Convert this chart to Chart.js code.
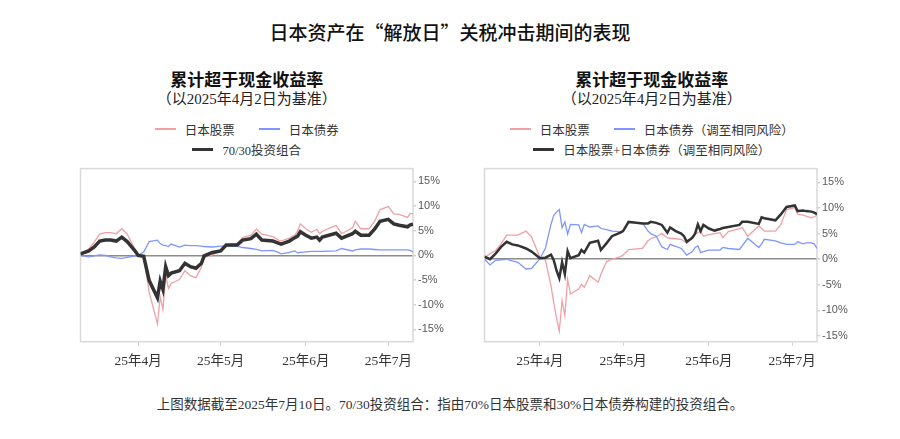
<!DOCTYPE html>
<html lang="zh-CN">
<head>
<meta charset="utf-8">
<script src="https://cdn.jsdelivr.net/npm/chart.js@4.4.1/dist/chart.umd.min.js"></script>
<style>
    body {
        margin: 0;
        width: 900px;
        height: 439px;
        position: relative;
        overflow: hidden;
        background: #fff;
        font-family: "Liberation Serif", "Noto Sans CJK SC", serif;
        color: #222;
    }
    .abs { position: absolute; }
    #mainTitle {
        left: 0; top: 20px; width: 900px; line-height: 24px;
        text-align: center; font-size: 19px; font-weight: 500; color: #111;
        font-family: "Noto Sans CJK SC", sans-serif;
    }
    .ctitle { width: 400px; line-height: 20px; text-align: center; font-size: 17px; font-weight: 700; color: #111; }
    .csub { width: 400px; line-height: 18px; text-align: center; font-size: 15px; color: #222; }
    .legrow {
        width: 400px; height: 18px; display: flex; justify-content: center; align-items: center;
        font-size: 12.5px; color: #333;
    }
    .item { display: flex; align-items: center; margin: 0 12px; }
    .sw { width: 21px; margin-right: 9px; }
    .box { width: 410px; height: 220px; }
    #footer {
        left: 0; top: 396px; width: 900px; line-height: 18px;
        text-align: center; font-size: 13.5px; color: #333;
    }
</style>
</head>
<body>
<div id="mainTitle" class="abs">日本资产在“解放日”关税冲击期间的表现</div>

<div class="abs ctitle" style="left:46.7px; top:70.7px;">累计超于现金收益率</div>
<div class="abs csub" style="left:46.7px; top:90.3px;">（以2025年4月2日为基准）</div>
<div class="abs legrow" style="left:46.7px; top:120px;">
    <div class="item"><div class="sw" style="height:1.6px; background:#f0a0a6"></div>日本股票</div>
    <div class="item"><div class="sw" style="height:1.6px; background:#8096ff"></div>日本债券</div>
</div>
<div class="abs legrow" style="left:46.7px; top:140.3px;">
    <div class="item"><div class="sw" style="height:3px; background:#333"></div>70/30投资组合</div>
</div>

<div class="abs ctitle" style="left:451.7px; top:70.7px;">累计超于现金收益率</div>
<div class="abs csub" style="left:451.7px; top:90.3px;">（以2025年4月2日为基准）</div>
<div class="abs legrow" style="left:451.7px; top:120px;">
    <div class="item"><div class="sw" style="height:1.6px; background:#f0a0a6"></div>日本股票</div>
    <div class="item"><div class="sw" style="height:1.6px; background:#8096ff"></div>日本债券（调至相同风险）</div>
</div>
<div class="abs legrow" style="left:451.7px; top:140.3px;">
    <div class="item"><div class="sw" style="height:2.5px; background:#333"></div>日本股票+日本债券（调至相同风险）</div>
</div>

<div class="abs box" style="left:60px; top:160px;"><canvas id="leftChart"></canvas></div>
<div class="abs box" style="left:464px; top:160px;"><canvas id="rightChart"></canvas></div>

<div id="footer" class="abs">上图数据截至2025年7月10日。70/30投资组合：指由70%日本股票和30%日本债券构建的投资组合。</div>

<script>
/* ===== Axis labels ===== */
const monthTickDates = ['04-01', '05-01', '06-01', '07-01'];
const monthTickLabels = ['25年4月', '25年5月', '25年6月', '25年7月'];
const yTicks = [-15, -10, -5, 0, 5, 10, 15];

/* ===== Left panel: equities, bonds, 70/30 (%) ===== */
const leftDates = [
    '03-11', '03-14', '03-16', '03-18', '03-20', '03-22', '03-24', '03-26', '03-28', '03-31',
    '04-01', '04-03', '04-05', '04-08', '04-09', '04-10', '04-11', '04-12', '04-13', '04-16',
    '04-18', '04-20', '04-22', '04-24', '04-25', '04-28', '05-01', '05-03', '05-07', '05-09',
    '05-12', '05-14', '05-16', '05-20', '05-22', '05-23', '05-26', '05-28', '05-29', '05-30',
    '06-01', '06-03', '06-05', '06-06', '06-07', '06-12', '06-14', '06-18', '06-19', '06-21',
    '06-24', '06-26', '06-28', '07-01', '07-03', '07-05', '07-08', '07-09', '07-10'
];
const leftEquity = [
    0.3, 1.3, 2.7, 4.3, 4.6, 4.6, 4.4, 5.4, 4.3, 1.1,
    0.0, -0.4, -7.5, -13.9, -8.4, -11.0, -4.0, -6.7, -5.7, -4.9,
    -3.1, -4.1, -4.5, -2.4, -0.4, 0.1, 0.9, 2.1, 2.4, 3.6,
    4.1, 5.3, 4.3, 3.8, 3.1, 2.9, 3.5, 4.1, 4.9, 6.4,
    5.4, 4.7, 5.3, 4.4, 4.9, 6.1, 4.4, 5.6, 6.9, 5.4,
    5.4, 6.9, 9.3, 9.9, 8.4, 8.3, 7.7, 8.5, 8.4
];
const leftBonds = [
    0.0, -0.3, -0.1, 0.1, 0.0, -0.3, -0.5, -0.6, -0.4, -0.1,
    0.0, 0.7, 2.8, 3.1, 2.4, 2.1, 2.0, 1.8, 2.3, 1.7,
    2.1, 2.0, 2.0, 1.9, 1.8, 1.7, 1.9, 1.9, 1.9, 1.6,
    1.4, 1.2, 0.9, 1.0, 0.6, 0.3, 0.6, 0.9, 0.5, 0.6,
    0.7, 0.8, 0.8, 0.8, 0.8, 0.9, 1.4, 0.9, 1.1, 1.3,
    1.3, 1.2, 1.1, 1.1, 1.1, 1.1, 1.1, 1.0, 0.7
];
const leftMix = [
    0.3, 0.9, 1.7, 2.9, 3.1, 3.1, 2.9, 3.7, 2.8, 0.8,
    0.0, -0.2, -5.1, -8.6, -5.2, -6.9, -2.3, -4.1, -3.6, -3.1,
    -1.6, -2.3, -2.6, -1.6, -0.1, 0.6, 0.9, 2.1, 2.1, 3.1,
    3.4, 4.3, 3.1, 2.9, 2.5, 2.3, 2.9, 3.6, 3.9, 4.8,
    4.1, 3.5, 3.7, 3.1, 3.7, 4.5, 3.5, 4.4, 4.9, 4.1,
    4.1, 5.3, 6.9, 7.3, 6.4, 6.1, 5.8, 6.2, 6.3
];

/* ===== Right panel: equities, risk-matched bonds, combined (%) ===== */
const rightDates = [
    '03-12', '03-14', '03-16', '03-18', '03-20', '03-22', '03-24', '03-27', '03-29', '04-01',
    '04-03', '04-05', '04-06', '04-07', '04-08', '04-09', '04-10', '04-11', '04-12', '04-15',
    '04-16', '04-17', '04-19', '04-22', '04-23', '04-25', '04-27', '04-30', '05-01', '05-03',
    '05-08', '05-10', '05-11', '05-13', '05-15', '05-17', '05-18', '05-20', '05-22', '05-23',
    '05-24', '05-26', '05-27', '05-28', '05-29', '05-30', '06-01', '06-03', '06-05', '06-06',
    '06-08', '06-12', '06-13', '06-15', '06-19', '06-20', '06-21', '06-25', '06-27', '06-29',
    '07-02', '07-03', '07-05', '07-06', '07-08', '07-09', '07-10'
];
const rightEquity = [
    0.3, 1.1, 1.7, 3.0, 4.7, 4.7, 4.7, 5.5, 4.3, 0.4,
    -0.2, -5.2, -8.5, -11.5, -14.0, -8.1, -11.0, -3.9, -6.8, -5.8,
    -4.9, -5.5, -3.2, -4.5, -3.0, -0.5, 0.0, 0.5, 0.8, 1.9,
    2.1, 3.6, 4.0, 4.4, 5.0, 4.2, 4.1, 4.0, 3.9, 3.5,
    3.2, 4.0, 4.9, 5.2, 5.5, 4.5, 4.8, 5.0, 5.2, 4.2,
    5.4, 6.0, 6.2, 4.5, 6.5, 6.0, 5.5, 5.5, 6.8, 9.7,
    10.1, 8.8, 8.6, 8.4, 8.1, 8.3, 8.6
];
const rightBonds = [
    0.0, -1.1, -0.2, -0.1, 0.0, -0.3, -0.6, -1.9, -1.8, 0.1,
    2.2, 6.8, 8.6, 9.2, 9.7, 6.2, 7.3, 4.9, 6.8, 6.7,
    5.2, 6.8, 6.3, 6.5, 6.0, 5.8, 5.5, 5.4, 5.4, 7.1,
    7.1, 5.5, 5.0, 4.5, 2.4, 1.9, 2.9, 2.5, 2.1, 1.5,
    0.8, 1.5, 2.3, 2.6, 1.3, 1.5, 1.8, 1.8, 1.8, 2.3,
    2.1, 1.9, 2.6, 4.1, 2.3, 3.0, 3.9, 3.6, 3.2, 2.9,
    2.9, 3.4, 3.0, 3.2, 3.2, 3.0, 2.1
];
const rightMix = [
    0.5, 0.0, 1.1, 2.4, 3.4, 2.9, 2.7, 2.1, 1.5, 0.2,
    0.3, 0.9, -0.2, -2.2, -3.7, -0.6, -2.9, 1.6, 0.2, 0.8,
    1.8, 1.3, 3.2, 3.6, 1.8, 3.1, 4.5, 5.2, 5.5, 7.3,
    7.0, 7.0, 7.3, 7.1, 6.7, 5.2, 6.2, 5.5, 5.0, 4.5,
    3.4, 4.2, 5.0, 6.8, 5.5, 6.7, 6.0, 5.6, 5.9, 6.1,
    6.3, 6.7, 7.3, 7.3, 6.9, 8.2, 8.0, 7.6, 8.8, 10.2,
    10.5, 9.4, 9.5, 9.4, 9.3, 9.1, 8.8
];

/* Helper: 'MM-DD' (2025) -> days after 1 April */
function dayOf(md) {
    const [m, d] = md.split('-').map(Number);
    return (Date.UTC(2025, m - 1, d) - Date.UTC(2025, 3, 1)) / 864e5;
}

const points = (dates, values) => dates.map((d, i) => ({ x: dayOf(d), y: values[i] }));

/* Light grey frame round the plot area */
const framePlugin = {
    id: 'frame',
    beforeDatasetsDraw(chart) {
        const { ctx, chartArea: a } = chart;
        ctx.save();
        ctx.strokeStyle = '#d9d9d9';
        ctx.lineWidth = 1.5;
        ctx.strokeRect(a.left, a.top, a.right - a.left, a.bottom - a.top);
        ctx.restore();
    }
};

function initPanel(id, dates, equity, bonds, mix, yMin, yMax, mixWidth) {
    const ctx = document.getElementById(id);
    if (!ctx) return;

    new Chart(ctx, {
        type: 'line',
        data: {
            datasets: [
                {
                    data: points(dates, mix),
                    borderColor: '#333333',
                    borderWidth: mixWidth,
                    order: 0
                },
                {
                    data: points(dates, bonds),
                    borderColor: '#8096ff',
                    borderWidth: 1.3,
                    order: 1
                },
                {
                    data: points(dates, equity),
                    borderColor: '#f0a0a6',
                    borderWidth: 1.3,
                    order: 2
                }
            ]
        },
        options: {
            responsive: true,
            maintainAspectRatio: false,
            animation: false,
            elements: {
                point: { radius: 0 },
                line: { tension: 0, borderJoinStyle: 'miter' }
            },
            layout: { padding: { left: 20.5, right: 12, top: 6.7, bottom: 8.3 } },
            plugins: {
                legend: { display: false },
                title: { display: false },
                tooltip: { enabled: false }
            },
            scales: {
                x: {
                    type: 'linear',
                    min: dayOf(dates[0]),
                    max: dayOf(dates[dates.length - 1]),
                    afterBuildTicks: (s) => { s.ticks = monthTickDates.map(d => ({ value: dayOf(d) })); },
                    afterFit: (s) => { s.height = 30; },
                    ticks: {
                        autoSkip: false,
                        maxRotation: 0,
                        padding: 8,
                        font: { family: '"Liberation Serif", "Noto Sans CJK SC"', size: 13.5 },
                        color: '#333',
                        callback: (v) => {
                            const i = monthTickDates.findIndex(d => dayOf(d) === v);
                            return i >= 0 ? monthTickLabels[i] : '';
                        }
                    },
                    grid: {
                        drawOnChartArea: false,
                        tickLength: 4,
                        tickColor: '#d0d0d0'
                    },
                    border: { display: false }
                },
                y: {
                    position: 'right',
                    min: yMin,
                    max: yMax,
                    afterBuildTicks: (s) => { s.ticks = yTicks.map(v => ({ value: v })); },
                    afterFit: (s) => { s.width = 45; },
                    ticks: {
                        padding: 2,
                        font: { family: 'Liberation Sans', size: 11 },
                        color: '#595959',
                        callback: (v) => v + '%'
                    },
                    grid: {
                        color: (c) => (c.tick && c.tick.value === 0 ? '#8c8c8c' : 'rgba(0,0,0,0)'),
                        lineWidth: 1.5,
                        tickLength: 3,
                        tickColor: '#d0d0d0'
                    },
                    border: { display: false }
                }
            }
        },
        plugins: [framePlugin]
    });
}

document.addEventListener('DOMContentLoaded', () => {
    initPanel('leftChart', leftDates, leftEquity, leftBonds, leftMix, -17.5, 17.6, 3.5);
    initPanel('rightChart', rightDates, rightEquity, rightBonds, rightMix, -16.1, 17.7, 2.5);
});
</script>
</body>
</html>
